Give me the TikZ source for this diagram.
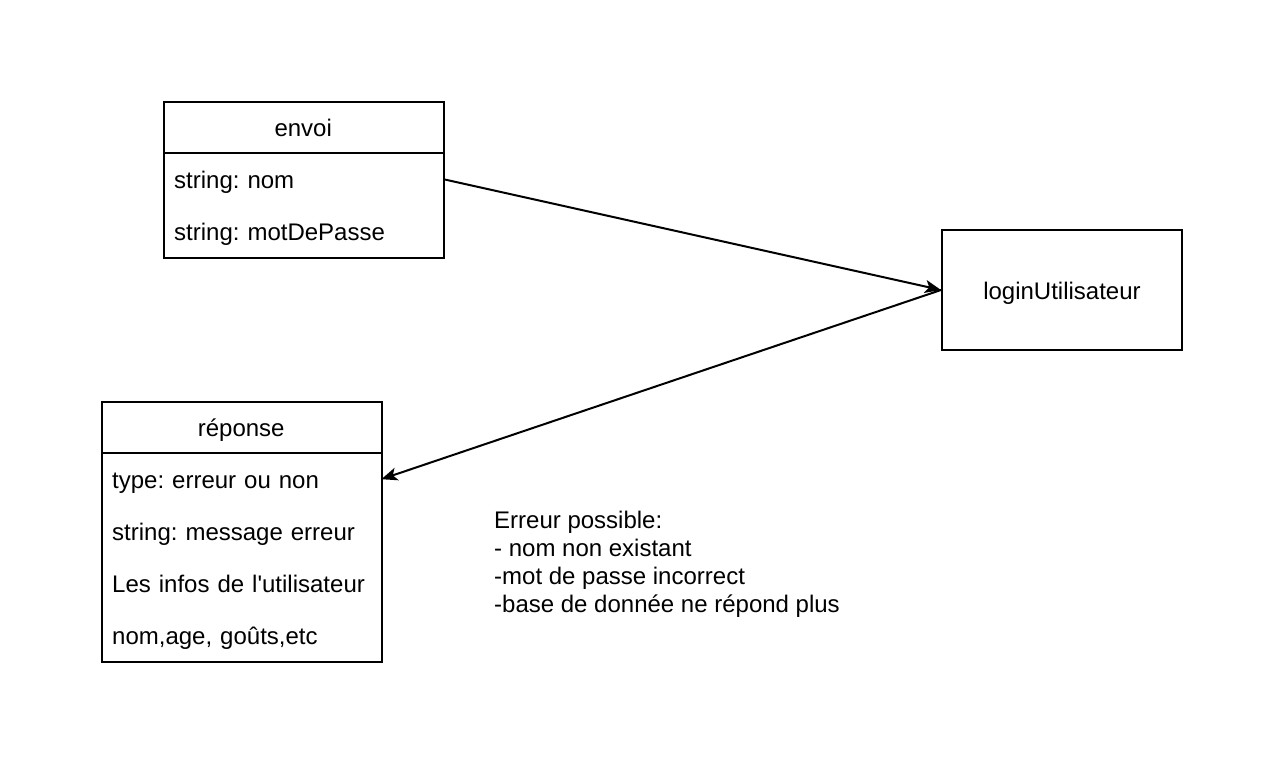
\documentclass[tikz,border=0pt]{standalone}
\usepackage{fontspec}
\setmainfont{Liberation Sans}
\usetikzlibrary{arrows.meta}
\frenchspacing
\begin{document}
\begin{tikzpicture}[x=1pt,y=-1pt,
  every node/.style={font=\fontsize{24}{28}\selectfont},
  frame/.style={draw, line width=2pt, minimum width=280pt, inner sep=0pt, anchor=north west},
  hdr/.style={minimum width=280pt, minimum height=52pt, inner sep=0pt, text height=22pt, text depth=4pt, anchor=north west},
  rowtext/.style={minimum height=52pt, text width=258pt, inner xsep=11pt, inner ysep=0pt, text height=22pt, text depth=4pt, align=left, anchor=north west},
  conn/.style={line width=2pt, -{Stealth[length=16pt, width=13pt, inset=4pt]}}]
\useasboundingbox (0,0) rectangle (1282,768);
% envoi
\node[frame, minimum height=156pt] (envoi) at (163,101) {};
\node[hdr] (envoihead) at (163,101) {envoi};
\draw[line width=2pt] (envoihead.south west) -- (envoihead.south east);
\node[rowtext] (nom) at (163,153) {string: nom};
\node[rowtext] (mdp) at (163,205) {string: motDePasse};
% login
\node[draw, line width=2pt, minimum width=240pt, minimum height=120pt, inner sep=0pt, text height=22pt, text depth=4pt, anchor=north west] (login) at (941,229) {loginUtilisateur};
% reponse
\node[frame, minimum height=260pt] (reponse) at (101,401) {};
\node[hdr] (rephead) at (101,401) {réponse};
\draw[line width=2pt] (rephead.south west) -- (rephead.south east);
\node[rowtext] (type) at (101,453) {type: erreur ou non};
\node[rowtext] (msg) at (101,505) {string: message erreur};
\node[rowtext] (infos) at (101,557) {Les infos de l\textquotesingle utilisateur};
\node[rowtext] (detail) at (101,609) {nom,age, goûts,etc};
% note
\node[anchor=north west, inner sep=0pt, align=left] (note) at (494,511) {Erreur possible:\\- nom non existant\\-mot de passe incorrect\\-base de donnée ne répond plus};
% connectors
\draw[conn] (nom.east) -- (login.west);
\draw[conn] (login.west) -- (type.east);
\end{tikzpicture}
\end{document}
